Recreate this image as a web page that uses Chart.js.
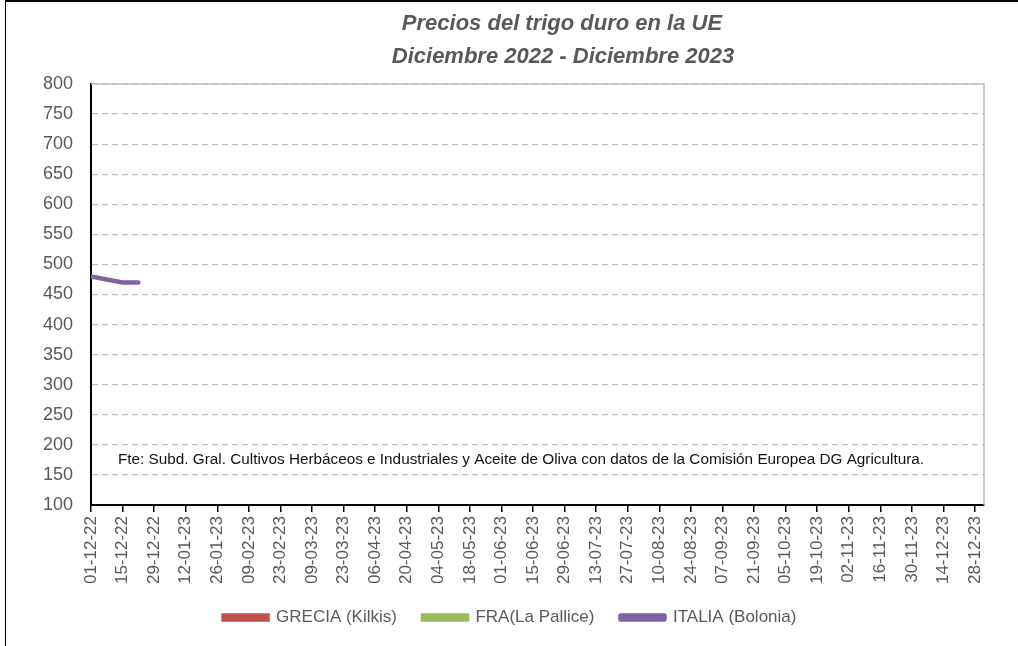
<!DOCTYPE html>
<html lang="es">
<head>
    <meta charset="UTF-8">
    <title>Precios del trigo duro en la UE</title>
    <script src="https://cdn.jsdelivr.net/npm/chart.js"></script>
    <style>
        body {
            margin: 0;
            padding: 0;
            background: #fff;
        }
        .marco {
            margin-left: 5px;
            width: 1013px;
            height: 644px;
            border-top: 2px solid #000;
            border-left: 1px solid #000;
            position: relative;
        }
        canvas {
            display: block;
        }
    </style>
</head>
<body>
    <div class="marco">
        <canvas id="grafico" width="1012" height="644"></canvas>
    </div>
    <script>
        // Datos semanales (€/t)
        const fechas = ['01-12-22', '08-12-22', '15-12-22', '22-12-22'];
        const grecia = [null, null, null, null];
        const francia = [null, null, null, null];
        const italia = [480, 475, 470, 470];

        const etiquetasX = [
            '01-12-22', '15-12-22', '29-12-22', '12-01-23', '26-01-23', '09-02-23', '23-02-23',
            '09-03-23', '23-03-23', '06-04-23', '20-04-23', '04-05-23', '18-05-23', '01-06-23',
            '15-06-23', '29-06-23', '13-07-23', '27-07-23', '10-08-23', '24-08-23', '07-09-23',
            '21-09-23', '05-10-23', '19-10-23', '02-11-23', '16-11-23', '30-11-23', '14-12-23',
            '28-12-23'
        ];
        const fechaInicio = '01-12-22';
        const fechaFin = '01-01-24';

        const titulo = ['Precios del trigo duro en la UE', 'Diciembre 2022 - Diciembre 2023'];
        const fuente = 'Fte: Subd. Gral. Cultivos Herbáceos e Industriales y Aceite de Oliva con datos de la Comisión Europea DG Agricultura.';

        function aFecha(s) {
            const p = s.split('-');
            return Date.UTC(2000 + parseInt(p[2]), parseInt(p[1]) - 1, parseInt(p[0]));
        }
        const DIA = 86400000;
        const t0 = aFecha(fechaInicio);
        function dias(s) {
            return Math.round((aFecha(s) - t0) / DIA);
        }
        function etiqueta(v) {
            const d = new Date(t0 + v * DIA);
            const dd = String(d.getUTCDate()).padStart(2, '0');
            const mm = String(d.getUTCMonth() + 1).padStart(2, '0');
            const yy = String(d.getUTCFullYear() % 100).padStart(2, '0');
            return dd + '-' + mm + '-' + yy;
        }
        function serie(valores) {
            return fechas.map((f, i) => ({ x: dias(f), y: valores[i] }));
        }

        const fuenteTexto = '"Liberation Sans", Arial, sans-serif';
        const gris = '#595959';

        // Titulo, nota de fuente y borde del area de trazado
        const extras = {
            id: 'extras',
            afterDraw(chart) {
                const ctx = chart.ctx;
                const a = chart.chartArea;
                ctx.save();
                ctx.strokeStyle = '#bfbfbf';
                ctx.lineWidth = 1.5;
                ctx.beginPath();
                ctx.moveTo(a.left, a.top);
                ctx.lineTo(a.right, a.top);
                ctx.lineTo(a.right, a.bottom);
                ctx.stroke();

                ctx.fillStyle = gris;
                ctx.font = 'italic bold 22px ' + fuenteTexto;
                ctx.textAlign = 'center';
                ctx.textBaseline = 'middle';
                ctx.fillText(titulo[0], 556, 22);
                ctx.fillText(titulo[1], 557, 55);

                ctx.fillStyle = '#111';
                ctx.font = '15.3px ' + fuenteTexto;
                ctx.textAlign = 'left';
                ctx.fillText(fuente, 112, 458);
                ctx.restore();
            }
        };

        new Chart(document.getElementById('grafico'), {
            type: 'line',
            data: {
                datasets: [
                    {
                        label: 'GRECIA (Kilkis)',
                        data: serie(grecia),
                        borderColor: '#C0504D',
                        backgroundColor: '#C0504D',
                        borderWidth: 4.5,
                        pointRadius: 0
                    },
                    {
                        label: 'FRA(La Pallice)',
                        data: serie(francia),
                        borderColor: '#9BBB59',
                        backgroundColor: '#9BBB59',
                        borderWidth: 4.5,
                        pointRadius: 0
                    },
                    {
                        label: 'ITALIA (Bolonia)',
                        data: serie(italia),
                        borderColor: '#8064A2',
                        backgroundColor: '#8064A2',
                        borderWidth: 4.5,
                        borderCapStyle: 'round',
                        borderJoinStyle: 'round',
                        pointRadius: 0
                    }
                ]
            },
            options: {
                responsive: false,
                animation: false,
                layout: {
                    padding: { left: 30, right: 34, top: 82, bottom: 10 }
                },
                plugins: {
                    title: { display: false },
                    tooltip: { enabled: false },
                    legend: {
                        position: 'bottom',
                        labels: {
                            color: gris,
                            font: { family: fuenteTexto, size: 17 },
                            boxWidth: 44,
                            boxHeight: 4,
                            padding: 26
                        }
                    }
                },
                scales: {
                    x: {
                        type: 'linear',
                        min: 0,
                        max: dias(fechaFin),
                        afterBuildTicks(scale) {
                            scale.ticks = etiquetasX.map(e => ({ value: dias(e) }));
                        },
                        afterFit(scale) {
                            scale.height = 78;
                        },
                        border: { color: '#000', width: 2 },
                        grid: {
                            drawOnChartArea: false,
                            drawTicks: true,
                            tickLength: 7,
                            color: '#000',
                            lineWidth: 1.5
                        },
                        ticks: {
                            color: gris,
                            font: { family: fuenteTexto, size: 17 },
                            minRotation: 90,
                            maxRotation: 90,
                            autoSkip: false,
                            padding: 4,
                            callback: v => etiqueta(v)
                        }
                    },
                    y: {
                        min: 100,
                        max: 800,
                        afterFit(scale) {
                            scale.width = 55;
                        },
                        grid: {
                            drawTicks: false,
                            color: '#c0c0c0',
                            lineWidth: 1.2
                        },
                        border: { color: '#000', width: 2, dash: [6, 4] },
                        ticks: {
                            stepSize: 50,
                            color: gris,
                            font: { family: fuenteTexto, size: 18 },
                            padding: 18
                        }
                    }
                }
            },
            plugins: [extras]
        });
    </script>
</body>
</html>
